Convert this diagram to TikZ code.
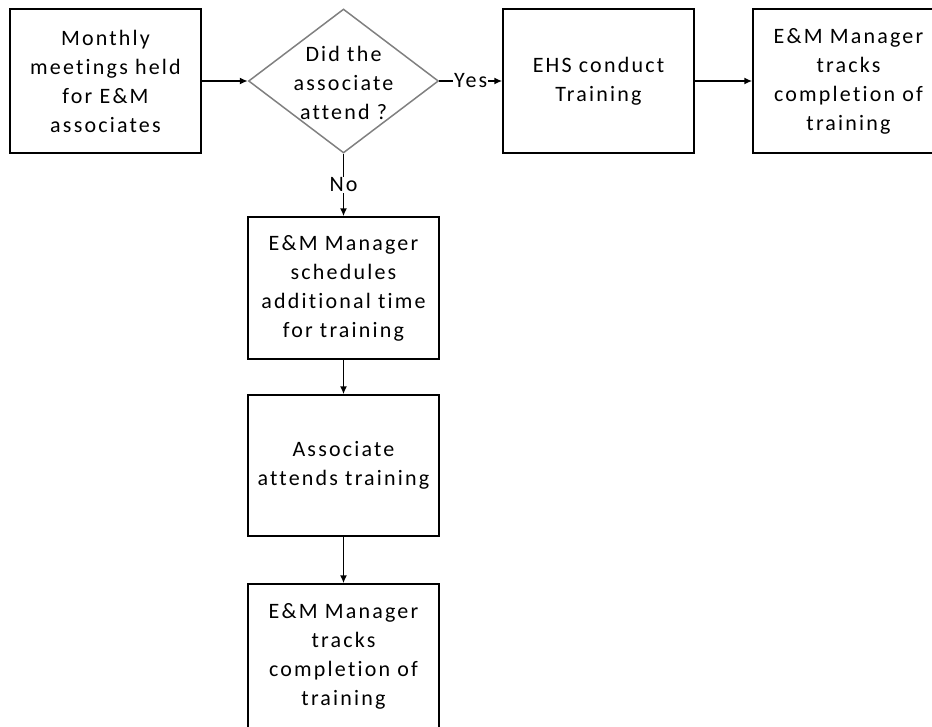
\documentclass[tikz,border=0pt]{standalone}
\usepackage{fontspec}
\setmainfont{Carlito}[LetterSpace=10,Ligatures=NoCommon]
\usepackage{tikz}
\usetikzlibrary{arrows.meta}
\usetikzlibrary{shapes.geometric}
\begin{document}
\begin{tikzpicture}
  [x=1pt,y=-1pt,line width=1.5pt,
   every node/.style={font=\fontsize{22}{29}\selectfont,align=center},
   box/.style={draw,minimum width=191pt,minimum height=144pt,inner sep=0pt},
   decision/.style={draw=gray,diamond,minimum width=190pt,minimum height=144pt,inner sep=0pt},
   tag/.style={fill=white,inner sep=1pt},
   >={Latex[length=8pt,width=7pt]}]
  \useasboundingbox (0,0) rectangle (932,726);
  \node[box] (meet) at (105.5,81) {Monthly\\meetings held\\for E\&M\\associates};
  \node[decision] (ask) at (343.5,81) {};
  \node (asktext) at (343.5,83) {Did the\\associate\\attend ?};
  \node[box] (ehs) at (598.5,81) {EHS conduct\\Training};
  \node[box] (tracka) at (848.5,81) {E\&M Manager\\tracks\\completion of\\training};
  \node[box,minimum height=142pt] (sched) at (343.5,288) {E\&M Manager\\schedules\\additional time\\for training};
  \node[box,minimum height=141pt] (attend) at (343.5,465.5) {Associate\\attends training};
  \node[box] (trackb) at (343.5,656) {E\&M Manager\\tracks\\completion of\\training};

  \draw[->] (ask) -- node[tag] (yes) {Yes} (ehs);
  \draw[->] (ask) -- node[tag] (no) {No} (sched);
  \foreach \from/\to in {meet/ask, ehs/tracka, sched/attend, attend/trackb}
    \draw[->] (\from) -- (\to);
\end{tikzpicture}
\end{document}
